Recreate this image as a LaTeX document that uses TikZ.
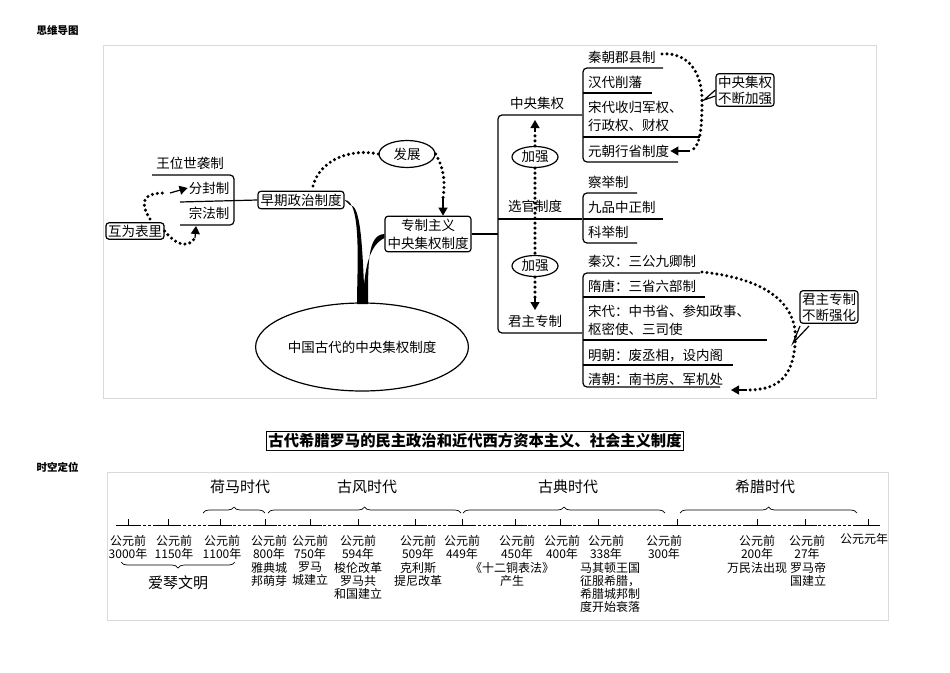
\documentclass[tikz,border=0pt]{standalone}
\usepackage{fontspec}
\setmainfont{Noto Sans CJK SC}
\usetikzlibrary{arrows.meta,decorations.pathreplacing,shapes.geometric}
\begin{document}
\begin{tikzpicture}[x=1pt,y=-1pt,
  mm/.style={font=\fontsize{13.5}{15}\selectfont,inner sep=1pt},
  bx/.style={mm,draw,line width=1.2pt,rounded corners=3pt,inner sep=2.5pt},
  el/.style={mm,draw,line width=1.2pt,ellipse,inner sep=1pt},
  ln/.style={line width=1.2pt},
  brk/.style={line width=1.2pt,rounded corners=4pt},
  dots/.style={line width=3.4pt,dash pattern=on 0pt off 5pt,line cap=round},
  tip/.style={-{Triangle[length=8pt,width=9pt]}},
  tl/.style={font=\fontsize{12}{13}\selectfont,align=center,inner sep=0pt},
  era/.style={font=\fontsize{15}{17}\selectfont,inner sep=0pt},
  brc/.style={decorate,decoration={brace,amplitude=6pt},line width=0.7pt}]
\useasboundingbox (0,0) rectangle (950,672);
\node[font=\fontsize{10.5}{12}\selectfont\bfseries,anchor=west] (t1) at (33,30) {思维导图};
\draw[black!15] (103,45) rectangle (876,398);
% left part
\node[mm] (wang) at (190,163) {王位世袭制};
\node[mm] (fen) at (209,188) {分封制};
\node[mm] (zong) at (209,213) {宗法制};
\draw[brk] (152,175) -| (234,225) -- (180,225);
\node[bx,inner sep=2pt] (hu) at (135,231) {互为表里};
\node[bx] (zao) at (301,200) {早期政治制度};
\draw[ln] (180,202) -- (zao.west);
\draw[dots] (150,219) .. controls (138,200) and (145,193) .. (165,193);
\draw[tip,line width=1.2pt] (170,193) -- (fen.west);
\draw[dots] (hu.east) .. controls (180,250) and (192,245) .. (195,237);
\draw[tip,line width=1.2pt] (195,238) -- (196,226);
\node[el,minimum width=56pt,minimum height=27pt] (fz) at (407,154) {发展};
\node[bx,align=center,font=\fontsize{13.5}{18}\selectfont] (zz) at (428,234) {专制主义\\中央集权制度};
\draw[dots] (313,186) .. controls (320,160) and (350,148) .. (fz.west);
\draw[dots] (fz.east) .. controls (445,170) and (445,185) .. (443,198);
\draw[tip,line width=1.2pt] (443,198) -- (zz.north -| 443,0);
\node[el,minimum width=192pt,minimum height=88pt] (zg) at (362,347) {中国古代的中央集权制度};
\fill (zao.east) .. controls (362,200) and (357,270) .. (357,304) -- (368,304)
  .. controls (368,260) and (368,235) .. (zz.west) -- ++(0,4) .. controls (370,245) and (366,265) .. (364,285)
  .. controls (362,240) and (360,205) .. (350,205) -- cycle;
% right part
\draw[ln] (zz.east) -- (498,234);
\draw[brk] (582,115) -- (498,115) -- (498,333) -- (582,333);
\draw[ln] (498,219) -- (582,219);
\node[mm] (zy) at (537,103) {中央集权};
\node[mm] (xg) at (535,206) {选官制度};
\node[mm] (jz) at (535,321) {君主专制};
\node[el,minimum width=46pt,minimum height=21pt] (jq1) at (535,157) {加强};
\node[el,minimum width=46pt,minimum height=21pt] (jq2) at (535,266) {加强};
\draw[dots] (jq1.north) -- (535,132);
\draw[tip,line width=1.2pt] (535,132) -- (535,120);
\draw[dots] (jq1.south) -- (jq2.north);
\draw[dots] (jq2.south) -- (535,298);
\draw[tip,line width=1.2pt] (535,298) -- (535,310);
% central power items
\node[mm,anchor=west] (a1) at (587,57) {秦朝郡县制};
\node[mm,anchor=west] (a2) at (587,82) {汉代削藩};
\node[mm,anchor=west,align=left,font=\fontsize{13.5}{18}\selectfont] (a3) at (587,116) {宋代收归军权、\\行政权、财权};
\node[mm,anchor=west] (a4) at (587,151) {元朝行省制度};
\draw[brk] (663,68) -- (583,68) -- (583,162) -- (678,162);
\draw[ln] (583,93) -- (652,93); \draw[ln] (583,137) -- (700,137);
\node[bx,align=center,inner sep=2pt,font=\fontsize{13.5}{16}\selectfont] (c1) at (745,90) {中央集权\\不断加强};
\draw[ln] (c1.west) ++(0,6) -- (704,100) -- (c1.west);
\draw[dots] (662,54) .. controls (690,52) and (702,75) .. (702,100) .. controls (702,130) and (700,148) .. (690,151);
\draw[tip,line width=1.2pt] (690,151) -- (a4.east);
% selection
\node[mm,anchor=west] (b1) at (587,182) {察举制};
\node[mm,anchor=west] (b2) at (587,207) {九品中正制};
\node[mm,anchor=west] (b3) at (587,232) {科举制};
\draw[brk] (637,193) -- (583,193) -- (583,243) -- (637,243);
\draw[ln] (583,219) -- (663,219);
% monarchy
\node[mm,anchor=west] (d1) at (587,261) {秦汉：三公九卿制};
\node[mm,anchor=west] (d2) at (587,286) {隋唐：三省六部制};
\node[mm,anchor=west,align=left,font=\fontsize{13.5}{18}\selectfont] (d3) at (587,320) {宋代：中书省、参知政事、\\枢密使、三司使};
\node[mm,anchor=west] (d4) at (587,355) {明朝：废丞相，设内阁};
\node[mm,anchor=west] (d5) at (587,379) {清朝：南书房、军机处};
\draw[brk] (700,273) -- (583,273) -- (583,387) -- (720,387);
\draw[ln] (583,297) -- (705,297); \draw[ln] (583,340) -- (767,340); \draw[ln] (583,365) -- (733,365);
\node[bx,align=center,inner sep=2pt,font=\fontsize{13.5}{16}\selectfont] (c2) at (829,307) {君主专制\\不断强化};
\draw[ln,fill=white] (800,326) -- (793,343) -- (809,326);
\draw[dots] (702,272) .. controls (760,278) and (800,300) .. (795,345) .. controls (792,380) and (775,390) .. (747,390);
\draw[tip,line width=1.2pt] (747,390) -- (731,390);
% title
\node[draw,line width=0.8pt,font=\fontsize{15.3}{17}\selectfont\bfseries,inner sep=2pt] (tt) at (475,441) {古代希腊罗马的民主政治和近代西方资本主义、社会主义制度};
\node[font=\fontsize{10.5}{12}\selectfont\bfseries,anchor=west] (t2) at (33,467) {时空定位};
\draw[black!15] (107,472) rectangle (888,620);
% timeline
\draw[line width=0.6pt,dash pattern=on 3pt off 2pt] (128,525) -- (868,525);
\foreach \x/\n in {128/p1,168/p2,220/p3,265/p4,310/p5,358/p6,415/p7,462/p8,515/p9,560/p10,598/p11,677/p12,757/p13,805/p14,868/p15}{
  \coordinate (\n) at (\x,525);
  \draw[line width=0.6pt] (\x,519) -- (\x,525);
  \draw[line width=0.6pt] (\x-12,525) -- (\x+12,525);
}
\node[tl] (y1) at (128,547) {公元前\\3000年};
\node[tl] (y2) at (174,547) {公元前\\1150年};
\node[tl] (y3) at (222,547) {公元前\\1100年};
\node[tl] (y4) at (269,547) {公元前\\800年};
\node[tl] (y5) at (310,547) {公元前\\750年};
\node[tl] (y6) at (358,547) {公元前\\594年};
\node[tl] (y7) at (418,547) {公元前\\509年};
\node[tl] (y8) at (462,547) {公元前\\449年};
\node[tl] (y9) at (517,547) {公元前\\450年};
\node[tl] (y10) at (562,547) {公元前\\400年};
\node[tl] (y11) at (606,547) {公元前\\338年};
\node[tl] (y12) at (664,547) {公元前\\300年};
\node[tl] (y13) at (757,547) {公元前\\200年};
\node[tl] (y14) at (807,547) {公元前\\27年};
\node[tl,anchor=north] (y15) at (864,533) {公元元年};
\node[tl,anchor=north] (e4) at (269,562) {雅典城\\邦萌芽};
\node[tl,anchor=north] (e5) at (310,562) {罗马\\城建立};
\node[tl,anchor=north] (e6) at (358,562) {梭伦改革\\罗马共\\和国建立};
\node[tl,anchor=north] (e7) at (418,562) {克利斯\\提尼改革};
\node[tl,anchor=north] (e9) at (512,562) {《十二铜表法》\\产生};
\node[tl,anchor=north] (e11) at (610,562) {马其顿王国\\征服希腊，\\希腊城邦制\\度开始衰落};
\node[tl,anchor=north] (e13) at (757,562) {万民法出现};
\node[tl,anchor=north] (e14) at (808,562) {罗马帝\\国建立};
\draw[brc] (203,513) -- (265,513);
\draw[brc] (268,513) -- (461,513);
\draw[brc] (463,513) -- (665,513);
\draw[brc] (680,513) -- (857,513);
\draw[brc] (235,562) -- (121,562);
\node[era] (h1) at (240,487) {荷马时代};
\node[era] (h2) at (367,487) {古风时代};
\node[era] (h3) at (568,487) {古典时代};
\node[era] (h4) at (765,487) {希腊时代};
\node[era] (h5) at (178,583) {爱琴文明};
\end{tikzpicture}
\end{document}
